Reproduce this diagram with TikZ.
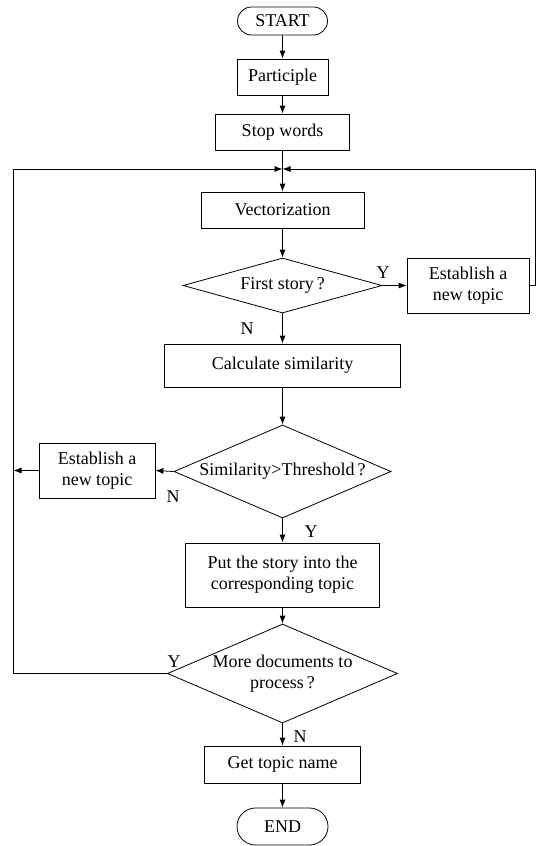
\documentclass[tikz,border=0pt]{standalone}
\usepackage{fontspec}
\setmainfont{Liberation Serif}
\usepackage{tikz}
\usetikzlibrary{arrows.meta,positioning,calc,shapes.geometric,shapes.misc}

\begin{document}
\begin{tikzpicture}[x=1pt,y=-1pt,
  font=\fontsize{18}{21}\selectfont,
  line width=0.8pt,
  >={Latex[length=8pt,width=6pt]},
  proc/.style={draw,rectangle,align=center,inner sep=0pt},
  term/.style={draw,rounded rectangle,inner sep=0pt},
  dia/.style={draw,diamond,inner sep=0pt},
  yn/.style={inner sep=0pt}]
\useasboundingbox (0,0) rectangle (536,846);

% Preprocessing
\node[term,minimum width=90pt,minimum height=28pt] (start) at (282.5,21) {START};
\node[proc,minimum width=91pt,minimum height=36pt] (part) at (282.5,77) {Participle};
\node[proc,minimum width=134pt,minimum height=36pt] (stop) at (282.5,132) {Stop words};

% Loop entry
\coordinate (mrg) at (282.5,169);
\coordinate (lt) at (13.5,169);
\coordinate (rt) at (535,169);

\node[proc,minimum width=163pt,minimum height=36pt] (vec) at (282.5,210) {Vectorization};

% First story test
\node[dia,minimum width=199pt,minimum height=55pt,label=center:{First story\,?}] (first) at (282.5,285.5) {};
\node[proc,minimum width=122pt,minimum height=55pt] (estR) at (468,285.5) {Establish a\\new topic};
\node[proc,minimum width=236pt,minimum height=43pt] (calc) at (282.5,365.5) {Calculate similarity};

% Threshold test
\node[dia,minimum width=217pt,minimum height=93pt,label=center:{Similarity>Threshold\,?}] (sim) at (282.5,471.5) {};
\node[proc,minimum width=116pt,minimum height=55pt] (estL) at (97,470.5) {Establish a\\new topic};
\node[proc,minimum width=194pt,minimum height=64pt] (put) at (282.5,575) {Put the story into the\\corresponding topic};

% More documents test
\node[dia,minimum width=230pt,minimum height=99pt,label={[align=center]center:More documents to\\process\,?}] (more) at (282.5,673.5) {};
\node[proc,minimum width=156pt,minimum height=37pt] (get) at (282.5,764.5) {Get topic name};
\node[term,minimum width=91pt,minimum height=37pt] (endn) at (282.5,826.5) {END};

% Y / N labels
\node[yn] (y1) at (383,273) {Y};
\node[yn] (n1) at (247,329) {N};
\node[yn] (n2) at (173,497) {N};
\node[yn] (y2) at (311,532) {Y};
\node[yn] (y3) at (174,662) {Y};
\node[yn] (n3) at (300,737) {N};

% Connectors
\draw[->] (start) -- (part);
\draw[->] (part) -- (stop);
\draw[->] (stop) -- (vec);
\draw[->] (vec) -- (first);
\draw[->] (first) -- (calc);
\draw[->] (first.east) -- (estR.west);
\draw[->] (estR.east) -- (estR.east -| rt) -- (rt) -- (mrg);
\draw[->] (calc) -- (sim);
\draw[->] (sim.west) -- (estL.east);
\draw[->] (estL.west) -- (estL.west -| lt);
\draw[->] (sim) -- (put);
\draw[->] (put) -- (more);
\draw[->] (more.west) -- (more.west -| lt) -- (lt) -- (mrg);
\draw[->] (more) -- (get);
\draw[->] (get) -- (endn);
\end{tikzpicture}
\end{document}
